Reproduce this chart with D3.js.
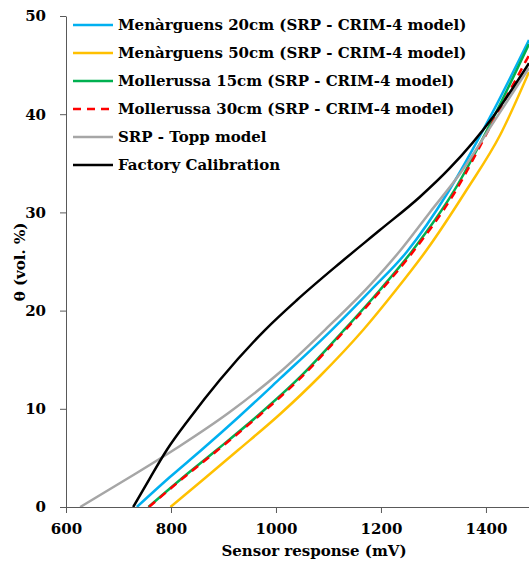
<!DOCTYPE html>
<html>
<head>
<meta charset="utf-8">
<script src="https://cdn.jsdelivr.net/npm/d3@7"></script>
<style>
  body { margin: 0; background: #fff; }
  text { font-family: "DejaVu Serif", serif; font-weight: bold; fill: #000; }
</style>
</head>
<body>
<svg id="chart" width="529" height="562"></svg>
<script>
// sensor response (mV) vs theta (vol. %)
const menarguens20 = [[735,0],[798,3.05],[858,5.8],[931,9.27],[1008,13.09],[1106,18.02],[1179,21.99],[1249,25.97],[1328,32.08],[1408,39.72],[1482,47.56]];
const menarguens50 = [[799,0],[865,2.95],[928,5.8],[1008,9.47],[1084,13.34],[1166,18.02],[1227,21.99],[1287,26.17],[1363,32.28],[1427,37.88],[1482,44.3]];
const mollerussa15 = [[757,0],[817,2.75],[887,5.8],[969,9.47],[1046,13.24],[1128,17.92],[1198,22.1],[1258,25.97],[1338,32.08],[1411,39.31],[1482,47.15]];
const mollerussa30 = [[758,0],[818,2.72],[888,5.75],[970,9.4],[1047,13.15],[1129,17.85],[1199,22.0],[1259,25.85],[1339,31.9],[1411,39.0],[1482,46.0]];
const toppModel = [[627,0],[722,3.05],[817,6.21],[912,9.67],[1008,13.75],[1093,18.02],[1179,22.6],[1236,26.07],[1293,30.0],[1350,33.9],[1417,39.4],[1482,44.7]];
const factoryCal = [[728,0],[760,2.95],[792,5.8],[836,9.06],[893,12.93],[979,18.02],[1040,21.08],[1122,24.85],[1198,28.2],[1274,31.57],[1331,34.5],[1413,39.7],[1482,45.2]];

const seriesNames = [
  "Menàrguens 20cm (SRP - CRIM-4 model)",
  "Menàrguens 50cm (SRP - CRIM-4 model)",
  "Mollerussa 15cm (SRP - CRIM-4 model)",
  "Mollerussa 30cm (SRP - CRIM-4 model)",
  "SRP - Topp model",
  "Factory Calibration"
];
const seriesData = [menarguens20, menarguens50, mollerussa15, mollerussa30, toppModel, factoryCal];
const seriesColors = ["#00b0f0", "#ffc000", "#00b050", "#ff0000", "#a6a6a6", "#000000"];
const seriesDash = [null, null, null, "8,6", null, null];

const xTicks = [600, 800, 1000, 1200, 1400];
const yTicks = [0, 10, 20, 30, 40, 50];

const svg = d3.select("#chart");
const margin = {left: 66, top: 16, right: 0, bottom: 55};
const width = 529, height = 562;

const x = d3.scaleLinear().domain([600, 1482]).range([margin.left, width - margin.right]);
const y = d3.scaleLinear().domain([0, 50]).range([height - margin.bottom, margin.top]);

svg.append("defs").append("clipPath").attr("id", "plot")
  .append("rect")
  .attr("x", margin.left).attr("y", 0)
  .attr("width", width - margin.left).attr("height", y(0));

// axes
const xAxis = svg.append("g")
  .attr("transform", `translate(0, ${y(0)})`)
  .call(d3.axisBottom(x).tickValues(xTicks).tickFormat(d3.format("d"))
    .tickSize(6).tickSizeOuter(0).tickPadding(10));
const yAxis = svg.append("g")
  .attr("transform", `translate(${margin.left}, 0)`)
  .call(d3.axisLeft(y).tickValues(yTicks).tickSize(6).tickSizeOuter(0).tickPadding(14));

[xAxis, yAxis].forEach(a => {
  a.select(".domain").attr("stroke", "#595959");
  a.selectAll(".tick line").attr("stroke", "#595959");
  a.selectAll(".tick text").style("font-size", "15px").style("font-family", "DejaVu Serif").style("font-weight", "bold");
});

// lines
const line = d3.line()
  .x(d => x(d[0]))
  .y(d => y(d[1]))
  .curve(d3.curveMonotoneX);

svg.append("g").attr("clip-path", "url(#plot)")
  .selectAll("path")
  .data(seriesData)
  .join("path")
  .attr("d", line)
  .attr("fill", "none")
  .attr("stroke", (d, i) => seriesColors[i])
  .attr("stroke-width", 2.5)
  .attr("stroke-dasharray", (d, i) => seriesDash[i]);

// legend
const legend = svg.append("g").selectAll("g")
  .data(seriesNames)
  .join("g")
  .attr("transform", (d, i) => `translate(73, ${25 + i * 28})`);

legend.append("line")
  .attr("x1", 0).attr("x2", 40)
  .attr("stroke", (d, i) => seriesColors[i])
  .attr("stroke-width", 2.5)
  .attr("stroke-dasharray", (d, i) => seriesDash[i]);

legend.append("text")
  .attr("x", 45).attr("dy", "0.35em")
  .style("font-size", "15px")
  .text(d => d);

// axis titles
svg.append("text")
  .attr("x", 314).attr("y", 556)
  .attr("text-anchor", "middle")
  .style("font-size", "15px")
  .text("Sensor response (mV)");

svg.append("text")
  .attr("transform", "translate(25, 262) rotate(-90)")
  .attr("text-anchor", "middle")
  .style("font-size", "15px")
  .text("θ (vol. %)");
</script>
</body>
</html>
